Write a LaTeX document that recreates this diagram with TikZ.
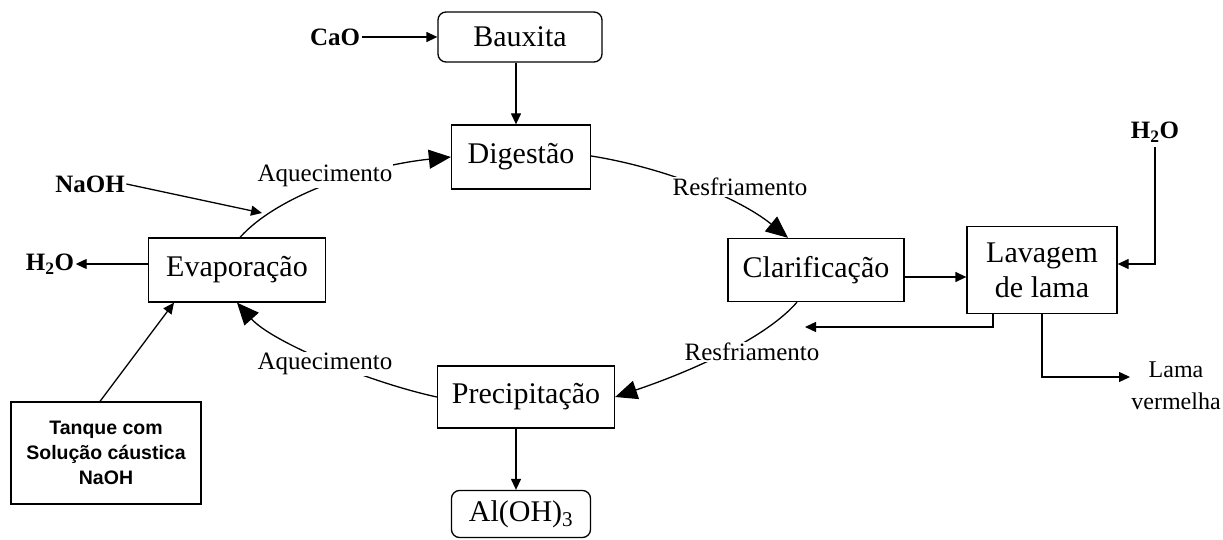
\documentclass[tikz,border=0pt]{standalone}
\usepackage{fontspec}
\setmainfont{Liberation Serif}
\newfontfamily\tankfont{Liberation Sans}
\usetikzlibrary{arrows.meta}
\begin{document}
\begin{tikzpicture}[x=1pt,y=-1pt,
  line width=1.3pt,
  box/.style={draw,line width=1.3pt,align=center,inner sep=0pt,font=\fontsize{30}{35}\selectfont},
  rbox/.style={box,rounded corners=8pt},
  lbl/.style={fill=white,inner sep=1pt,font=\fontsize{25}{28}\selectfont},
  chem/.style={inner sep=1pt,font=\fontsize{25}{28}\selectfont\bfseries},
  sarr/.style={-{Triangle[length=11pt,width=10pt]}},
  barr/.style={-{Triangle[length=22pt,width=19pt]}}]
\useasboundingbox (0,0) rectangle (1223,540);
% boxes
\node[rbox,minimum width=164pt,minimum height=50pt] (baux) at (520,37) {Bauxita};
\node[box,minimum width=139pt,minimum height=64pt] (dig) at (521,157) {Digestão};
\node[box,minimum width=177pt,minimum height=64pt] (evap) at (237,270) {Evaporação};
\node[box,minimum width=176pt,minimum height=63pt] (clar) at (816,270) {Clarificação};
\node[box,minimum width=150pt,minimum height=87pt] (lav) at (1042,270) {Lavagem\\de lama};
\node[box,minimum width=177pt,minimum height=62pt] (prec) at (526,397) {Precipitação};
\node[rbox,minimum width=139pt,minimum height=47pt] (al) at (521,514) {Al(OH)\textsubscript{3}};
\node[box,minimum width=190pt,minimum height=102pt,font=\tankfont\fontsize{19.5}{25}\selectfont\bfseries] (tank) at (106,453) {Tanque com\\Solução cáustica\\NaOH};
% chemical labels
\node[chem] (cao) at (335,37) {CaO};
\node[chem] (naoh) at (90,184) {NaOH};
\node[chem] (h2oL) at (50,264) {H\textsubscript{2}O};
\node[chem] (h2oR) at (1155,132) {H\textsubscript{2}O};
\node[align=center,inner sep=0pt,font=\fontsize{24}{32}\selectfont] (lama) at (1176,386) {Lama\\vermelha};
% coordinates
\coordinate (naohend) at (262,213);
\coordinate (ret) at (805,327);
\coordinate (lamaend) at (1130,377);
% straight connectors
\draw[sarr] (cao.east) -- (baux.west);
\draw[sarr] ([xshift=-4pt]baux.south) -- ([xshift=-5pt]dig.north);
\draw[sarr] (naoh.east) -- (naohend);
\draw[sarr] ([yshift=6pt]evap.west) -- (h2oL.east);
\draw[sarr] ([xshift=-6pt]tank.north) -- ([xshift=-63pt]evap.south);
\draw[sarr] ([xshift=-10pt]prec.south) -- ([xshift=-5pt]al.north);
\draw[sarr] ([yshift=-7pt]clar.east) -- ([yshift=-7pt]lav.west);
\draw[sarr] ([yshift=-3pt]h2oR.south) |- ([yshift=6pt]lav.east);
\draw[sarr] ([xshift=-49pt]lav.south) |- (ret);
\draw[sarr] (lav.south) |- (lamaend);
% cycle curves
\draw[barr] ([xshift=3pt]evap.north) .. controls (280,193) and (372,165) .. (dig.west);
\draw[barr] ([yshift=1pt]dig.east) .. controls (661,167) and (738,197) .. ([xshift=-28pt]clar.north);
\draw[barr] ([xshift=-19pt]clar.south) .. controls (767,337) and (695,370) .. (prec.east);
\draw[barr] (prec.west) .. controls (368,382) and (272,342) .. (evap.south);
% cycle labels
\node[lbl] (aq1) at (325,176) {Aquecimento};
\node[lbl] (rf1) at (740,187) {Resfriamento};
\node[lbl] (rf2) at (752,352) {Resfriamento};
\node[lbl] (aq2) at (325,364) {Aquecimento};
\end{tikzpicture}
\end{document}
